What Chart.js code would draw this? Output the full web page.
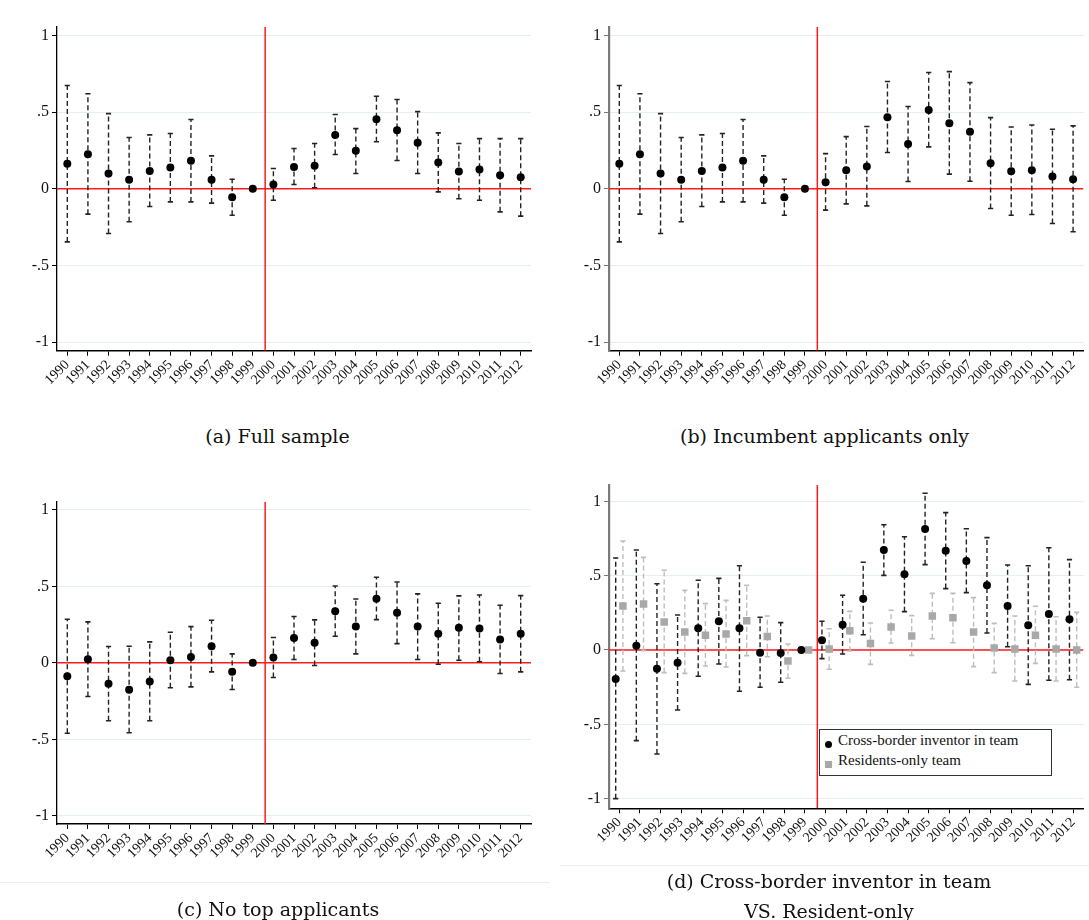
<!DOCTYPE html>
<html>
<head>
<meta charset="utf-8">
<script src="https://cdn.jsdelivr.net/npm/chart.js@4.4.1/dist/chart.umd.min.js"></script>
<style>
  body { margin: 0; background: #fff; }
  #page { position: relative; width: 1089px; height: 920px; overflow: hidden; background: #fff; }
  canvas { position: absolute; }
  .cap { position: absolute; text-align: center; font-family: 'DejaVu Serif', serif; font-size: 19px; color: #111; line-height: 28px; }
  .rule { position: absolute; height: 1px; background: #eeeeee; }
  #legendD { position: absolute; left: 819px; top: 729px; width: 231px; height: 45px; border: 1px solid #333; background: #fff;
             font-family: 'Liberation Serif', serif; font-size: 15px; color: #111; }
  #legendD div { position: absolute; left: 18px; white-space: nowrap; }
  .mk { position: absolute; }
</style>
</head>
<body>
<div id="page">
  <canvas id="chartA" width="550" height="410" style="left:0;top:0"></canvas>
  <canvas id="chartB" width="537" height="410" style="left:552px;top:0"></canvas>
  <canvas id="chartC" width="550" height="415" style="left:0;top:475px"></canvas>
  <canvas id="chartD" width="537" height="415" style="left:552px;top:465px"></canvas>

  <div class="cap" style="left:0;width:555px;top:422px">(a) Full sample</div>
  <div class="cap" style="left:560px;width:529px;top:422px">(b) Incumbent applicants only</div>
  <div class="rule" style="left:0;width:550px;top:882px"></div>
  <div class="cap" style="left:0;width:556px;top:895px">(c) No top applicants</div>
  <div class="rule" style="left:560px;width:529px;top:865px"></div>
  <div class="cap" style="left:560px;width:538px;top:866px;line-height:30px">(d) Cross-border inventor in team<br>VS. Resident-only</div>

  <div id="legendD">
    <span class="mk" style="left:5px;top:11px;width:7px;height:7px;border-radius:50%;background:#000"></span>
    <div style="top:2px">Cross-border inventor in team</div>
    <span class="mk" style="left:5px;top:31px;width:7px;height:7px;background:#a8a8a8"></span>
    <div style="top:22px">Residents-only team</div>
  </div>
</div>

<script>
Chart.defaults.font.family = "'Liberation Serif', serif";

// years on the x axis
const years = [1990, 1991, 1992, 1993, 1994, 1995, 1996, 1997, 1998, 1999, 2000, 2001,
               2002, 2003, 2004, 2005, 2006, 2007, 2008, 2009, 2010, 2011, 2012];

// y ticks and how they are printed
const yTicks = [-1, -0.5, 0, 0.5, 1];
const yTickLabels = ['-1', '-.5', '0', '.5', '1'];

// (a) full sample
const fullCoef = [0.163, 0.226, 0.100, 0.059, 0.117, 0.139, 0.183, 0.059, -0.054, 0, 0.028, 0.143,
                  0.150, 0.352, 0.248, 0.454, 0.383, 0.300, 0.172, 0.113, 0.126, 0.089, 0.076];
const fullLo = [-0.346, -0.165, -0.291, -0.215, -0.115, -0.085, -0.085, -0.093, -0.172, null, -0.074, 0.028,
                0.007, 0.224, 0.100, 0.307, 0.185, 0.100, -0.020, -0.065, -0.074, -0.150, -0.178];
const fullHi = [0.674, 0.620, 0.491, 0.335, 0.352, 0.361, 0.452, 0.215, 0.063, null, 0.133, 0.263,
                0.296, 0.485, 0.393, 0.604, 0.583, 0.504, 0.365, 0.296, 0.328, 0.328, 0.328];

// (b) incumbent applicants only
const incCoef = [0.163, 0.226, 0.100, 0.059, 0.117, 0.139, 0.183, 0.059, -0.054, 0, 0.043, 0.122,
                 0.146, 0.467, 0.293, 0.515, 0.428, 0.372, 0.167, 0.115, 0.122, 0.080, 0.063];
const incLo = [-0.346, -0.165, -0.291, -0.215, -0.115, -0.085, -0.085, -0.093, -0.172, null, -0.139, -0.098,
               -0.111, 0.237, 0.048, 0.274, 0.096, 0.050, -0.128, -0.172, -0.167, -0.226, -0.280];
const incHi = [0.674, 0.620, 0.491, 0.335, 0.352, 0.361, 0.452, 0.215, 0.063, null, 0.230, 0.341,
               0.407, 0.700, 0.537, 0.759, 0.765, 0.693, 0.465, 0.404, 0.417, 0.389, 0.411];

// (c) no top applicants
const noTopCoef = [-0.087, 0.024, -0.137, -0.176, -0.122, 0.017, 0.039, 0.109, -0.059, 0, 0.035, 0.163,
                   0.131, 0.338, 0.237, 0.420, 0.327, 0.237, 0.190, 0.229, 0.224, 0.153, 0.190];
const noTopLo = [-0.460, -0.220, -0.379, -0.457, -0.379, -0.163, -0.157, -0.059, -0.174, null, -0.096, 0.022,
                 -0.017, 0.174, 0.059, 0.283, 0.126, 0.022, -0.009, 0.017, 0.007, -0.070, -0.059];
const noTopHi = [0.285, 0.268, 0.107, 0.109, 0.137, 0.200, 0.237, 0.279, 0.059, null, 0.166, 0.303,
                 0.281, 0.503, 0.418, 0.560, 0.529, 0.451, 0.390, 0.438, 0.444, 0.377, 0.440];

// (d) cross-border inventor in team
const crossCoef = [-0.195, 0.029, -0.126, -0.085, 0.146, 0.193, 0.146, -0.018, -0.020, 0, 0.065, 0.170,
                   0.345, 0.673, 0.509, 0.814, 0.668, 0.599, 0.435, 0.296, 0.166, 0.242, 0.206];
const crossLo = [-1.000, -0.610, -0.700, -0.404, -0.177, -0.094, -0.278, -0.251, -0.217, null, -0.058, -0.027,
                 0.103, 0.502, 0.258, 0.574, 0.413, 0.386, 0.114, 0.022, -0.231, -0.204, -0.200];
const crossHi = [0.619, 0.673, 0.446, 0.235, 0.469, 0.482, 0.567, 0.220, 0.184, null, 0.193, 0.368,
                 0.590, 0.843, 0.762, 1.054, 0.924, 0.816, 0.756, 0.572, 0.567, 0.688, 0.608];

// (d) residents-only team
const resCoef = [0.296, 0.309, 0.188, 0.121, 0.100, 0.108, 0.197, 0.090, -0.074, 0, 0.007, 0.130,
                 0.043, 0.155, 0.094, 0.229, 0.217, 0.121, 0.013, 0.007, 0.100, 0.007, 0.000];
const resLo = [-0.141, -0.004, -0.152, -0.157, -0.108, -0.114, -0.038, -0.045, -0.190, null, -0.130, -0.007,
               -0.097, 0.047, -0.036, 0.076, 0.049, -0.112, -0.152, -0.209, -0.090, -0.209, -0.251];
const resHi = [0.733, 0.623, 0.536, 0.401, 0.312, 0.334, 0.435, 0.229, 0.040, null, 0.143, 0.260,
               0.182, 0.267, 0.231, 0.381, 0.381, 0.352, 0.179, 0.229, 0.294, 0.224, 0.253];

const eventYear = 1999.6; // red vertical line
const xMin = 1989.5, xMax = 2012.5;

// one dashed line per confidence interval, caps are 'line' point styles
function ciSets(xs, lo, hi, color) {
  const sets = [];
  xs.forEach((x, i) => {
    if (lo[i] === null) return;
    sets.push({
      data: [{ x: x, y: lo[i] }, { x: x, y: hi[i] }],
      showLine: true,
      borderColor: color,
      borderWidth: 1.4,
      borderDash: [5, 3],
      pointStyle: 'line',
      pointRadius: 2.6,
      pointBorderColor: color,
      pointBorderWidth: 1.6,
      pointBackgroundColor: color,
      order: 2
    });
  });
  return sets;
}

function pointSet(xs, coef, color, style, r) {
  return {
    data: xs.map((x, i) => ({ x: x, y: coef[i] })),
    showLine: false,
    pointStyle: style,
    pointRadius: r,
    backgroundColor: color,
    pointBackgroundColor: color,
    pointBorderWidth: 0,
    order: 1
  };
}

function redLines(yMin, yMax) {
  const common = { showLine: true, borderColor: '#ff1a1a', borderWidth: 1.5, pointRadius: 0, order: 5 };
  return [
    Object.assign({ data: [{ x: xMin, y: 0 }, { x: xMax, y: 0 }] }, common),
    Object.assign({ data: [{ x: eventYear, y: yMin }, { x: eventYear, y: yMax }] }, common)
  ];
}

function makePanel(id, datasets, p) {
  new Chart(document.getElementById(id), {
    type: 'scatter',
    data: { datasets: datasets },
    options: {
      responsive: false,
      animation: false,
      events: [],
      layout: { padding: { top: p.padTop, right: p.padRight, left: 0, bottom: 0 } },
      plugins: { legend: { display: false }, tooltip: { enabled: false } },
      scales: {
        x: {
          type: 'linear', min: xMin, max: xMax,
          afterBuildTicks: (s) => { s.ticks = years.map((v) => ({ value: v })); },
          afterFit: (s) => { s.height = p.xAxisH; },
          grid: { drawOnChartArea: false, color: '#000', tickColor: '#000', tickLength: 5 },
          border: { color: '#000', width: 1.5 },
          ticks: { autoSkip: false, minRotation: 45, maxRotation: 45, padding: 1, color: '#111',
                   font: { size: 14 }, callback: (v) => String(v) }
        },
        y: {
          min: p.yMin, max: p.yMax,
          afterBuildTicks: (s) => { s.ticks = yTicks.map((v) => ({ value: v })); },
          afterFit: (s) => { s.width = 57; },
          grid: { color: '#e6eef0', tickColor: p.axisColor, tickLength: 5 },
          border: { color: p.axisColor, width: p.axisWidth },
          ticks: { padding: 3, color: '#111', font: { size: 16 },
                   callback: (v) => yTickLabels[yTicks.indexOf(v)] }
        }
      }
    }
  });
}

const yr = years;
makePanel('chartA',
  [pointSet(yr, fullCoef, '#000', 'circle', 4), ...ciSets(yr, fullLo, fullHi, '#222'), ...redLines(-1.056, 1.056)],
  { padTop: 27, padRight: 19, xAxisH: 59.3, yMin: -1.056, yMax: 1.056, axisColor: '#000', axisWidth: 1.3 });

makePanel('chartB',
  [pointSet(yr, incCoef, '#000', 'circle', 4), ...ciSets(yr, incLo, incHi, '#222'), ...redLines(-1.056, 1.056)],
  { padTop: 27, padRight: 0, xAxisH: 59.3, yMin: -1.056, yMax: 1.056, axisColor: '#7a7a7a', axisWidth: 2.2 });

makePanel('chartC',
  [pointSet(yr, noTopCoef, '#000', 'circle', 4), ...ciSets(yr, noTopLo, noTopHi, '#222'), ...redLines(-1.054, 1.054)],
  { padTop: 26.7, padRight: 19, xAxisH: 66, yMin: -1.054, yMax: 1.054, axisColor: '#000', axisWidth: 1.3 });

// panel (d): the two series sit a little left and right of each year
const dodge = 0.175;
const xCross = years.map((y) => y - dodge);
const xRes = years.map((y) => y + dodge);
makePanel('chartD',
  [pointSet(xCross, crossCoef, '#000', 'circle', 4), pointSet(xRes, resCoef, '#a8a8a8', 'rect', 5.3),
   ...ciSets(xCross, crossLo, crossHi, '#222'), ...ciSets(xRes, resLo, resHi, '#bdbdbd'), ...redLines(-1.065, 1.11)],
  { padTop: 20, padRight: 0, xAxisH: 71.7, yMin: -1.065, yMax: 1.11, axisColor: '#7a7a7a', axisWidth: 2.2 });
</script>
</body>
</html>
